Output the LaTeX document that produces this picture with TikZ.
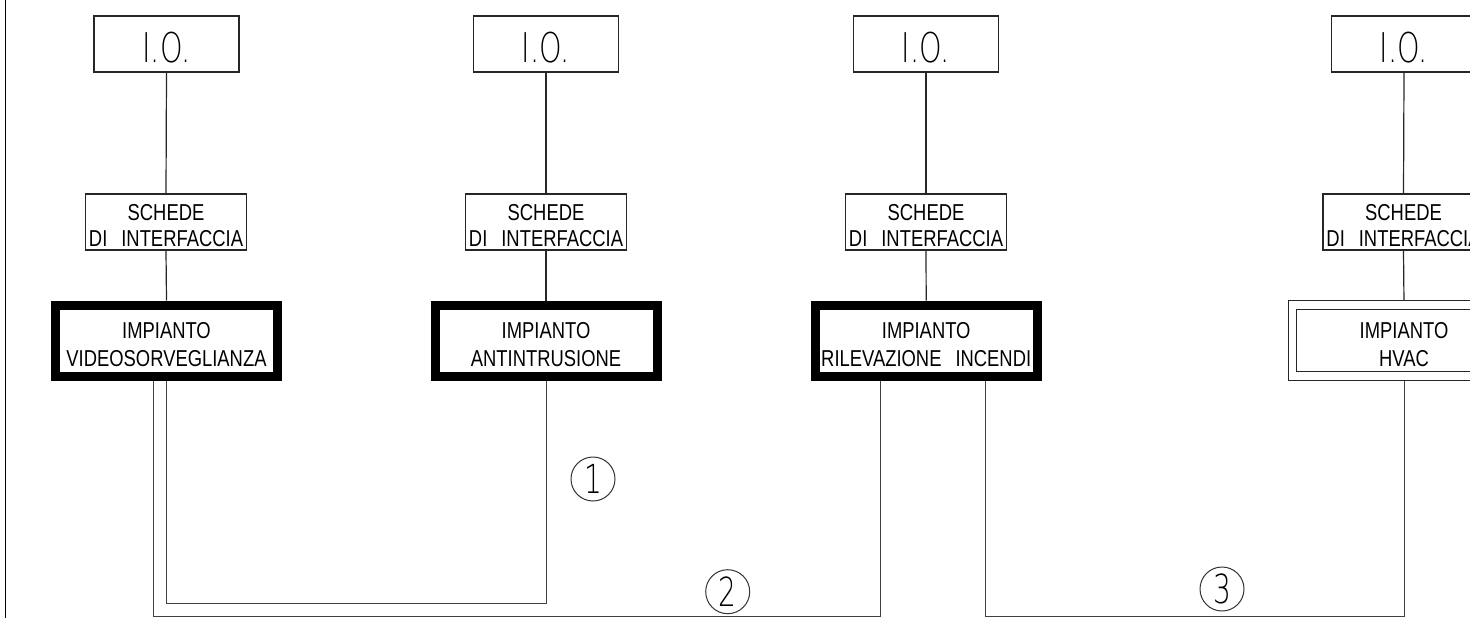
\documentclass[tikz,border=0pt]{standalone}
\usepackage{fontspec}
\setmainfont{Liberation Sans}[FakeStretch=0.8]
\newfontfamily\thinfont{DejaVu Sans ExtraLight}[FakeStretch=0.7]
\usetikzlibrary{backgrounds}
\newcommand{\gap}{\hspace{14pt}}
\begin{document}
\begin{tikzpicture}[x=1pt,y=-1pt,
  box/.style={draw=black!85, line width=1.2pt, inner sep=0pt, align=center},
  iobox/.style={box, minimum width=145pt, minimum height=56pt,
    font=\thinfont\fontsize{41}{41}\selectfont},
  scbox/.style={box, minimum width=161pt, minimum height=56pt,
    font=\fontsize{23}{26}\selectfont},
  imbox/.style={draw=black, line width=9pt, minimum width=222pt, minimum height=71pt,
    inner sep=0pt, align=center, font=\fontsize{23}{28.4}\selectfont},
  hvacbox/.style={draw=black!85, line width=1.2pt, double, double distance=7.5pt,
    minimum width=223pt, minimum height=71pt, inner sep=0pt, align=center,
    font=\fontsize{23}{28.4}\selectfont},
  wire/.style={draw=black!75, line width=1pt},
  num/.style={circle, draw=black!80, line width=1pt, minimum size=44pt, inner sep=0pt,
    font=\thinfont\fontsize{40}{40}\selectfont}
]
\useasboundingbox (0,0) rectangle (1470,618);
\clip (0,0) rectangle (1470,618);

% left border line
\draw[black, line width=1.3pt] (5.5,0) -- (5.5,618);

% I.O. boxes
\node[iobox] (io1) at (166.5,44) {\rule{0pt}{38.5pt}I.O.};
\node[iobox] (io2) at (546,44) {\rule{0pt}{38.5pt}I.O.};
\node[iobox] (io3) at (926,44) {\rule{0pt}{38.5pt}I.O.};
\node[iobox] (io4) at (1404,44) {\rule{0pt}{38.5pt}I.O.};

% interface boards
\node[scbox] (sc1) at (166,222) {\rule{0pt}{23.5pt}SCHEDE\\DI\gap INTERFACCIA};
\node[scbox] (sc2) at (546,222) {\rule{0pt}{23.5pt}SCHEDE\\DI\gap INTERFACCIA};
\node[scbox] (sc3) at (926,222) {\rule{0pt}{23.5pt}SCHEDE\\DI\gap INTERFACCIA};
\node[scbox] (sc4) at (1403.5,222) {\rule{0pt}{23.5pt}SCHEDE\\DI\gap INTERFACCIA};

% systems
\node[imbox] (im1) at (166.5,340.5) {\rule{0pt}{24pt}IMPIANTO\\VIDEOSORVEGLIANZA};
\node[imbox] (im2) at (546,340.5) {\rule{0pt}{24pt}IMPIANTO\\ANTINTRUSIONE};
\node[imbox] (im3) at (926.2,340.5) {\rule{0pt}{24pt}IMPIANTO\\RILEVAZIONE\gap INCENDI};
\node[hvacbox] (im4) at (1404,340.5) {\rule{0pt}{24pt}IMPIANTO\\HVAC};

% numbered circles
\node[num] (n1) at (593,479) {1};
\node[num] (n2) at (727.7,591.7) {2};
\node[num] (n3) at (1222,589) {3};

\coordinate (c1) at (546,603);
\coordinate (c2) at (880,616);
\coordinate (c3) at (1404,616);

\begin{pgfonlayer}{background}
  \foreach \i in {1,2,3,4} {
    \draw[black!85, line width=1.2pt] (io\i.south) -- (sc\i.north);
    \draw[black!85, line width=1.2pt] (sc\i.south) -- (im\i.north);
  }
  \draw[wire] (im1.south) |- (c1) -- (im2.south);
  \draw[wire] ([xshift=-13pt]im1.south) |- (c2) -- (c2 |- im3.south);
  \draw[wire] ([xshift=59pt]im3.south) |- (c3) -- (im4.south);
\end{pgfonlayer}
\end{tikzpicture}
\end{document}
